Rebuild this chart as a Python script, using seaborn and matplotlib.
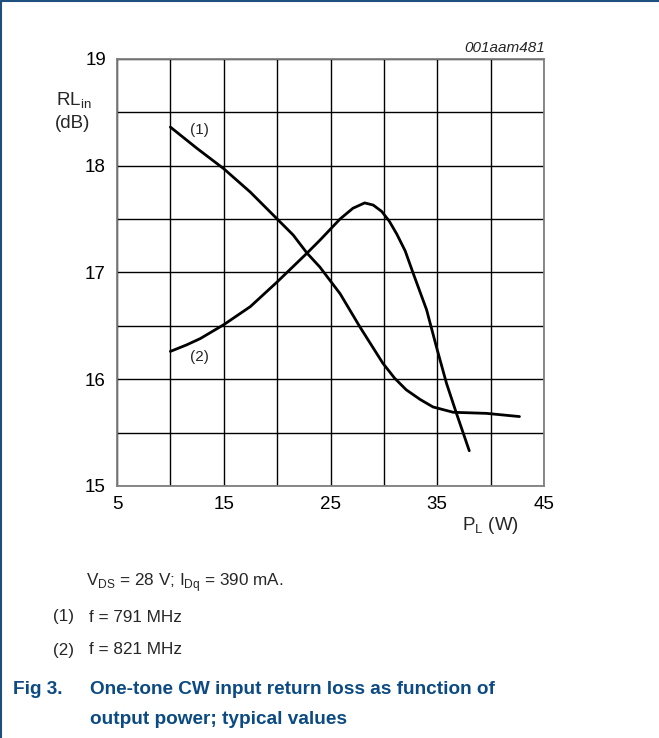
import matplotlib
matplotlib.use("Agg")
import matplotlib.pyplot as plt
from matplotlib.lines import Line2D
import seaborn as sns
import pandas as pd

# Data
x1 = [10.0, 12.5, 15.0, 17.5, 20.0, 21.5, 22.8, 24.0, 25.9, 27.75, 29.9, 31.0, 32.1, 33.4, 34.6, 36.5, 39.6, 42.7]
y1 = [18.36, 18.16, 17.97, 17.75, 17.50, 17.35, 17.18, 17.05, 16.80, 16.49, 16.15, 16.01, 15.90, 15.81, 15.74, 15.69, 15.68, 15.65]
x2 = [10.0, 11.5, 12.8, 15.0, 17.5, 20.0, 22.8, 24.0, 25.9, 27.1, 28.2, 29.0, 29.8, 30.5, 31.2, 32.0, 32.75, 34.0, 34.93, 35.87, 36.8, 38.0]
y2 = [16.26, 16.32, 16.38, 16.51, 16.68, 16.91, 17.18, 17.30, 17.50, 17.60, 17.65, 17.63, 17.57, 17.48, 17.36, 17.20, 16.99, 16.65, 16.30, 15.96, 15.68, 15.33]
series_labels = ["(1)", "(2)"]
x_ticks = [5, 15, 25, 35, 45]
y_ticks = [15, 16, 17, 18, 19]

sns.set_theme(style="white")
plt.rcParams['font.family'] = ['Liberation Sans', 'DejaVu Sans']

W, H = 659, 738
fig = plt.figure(figsize=(W / 100, H / 100), dpi=100)
ax = fig.add_axes([117 / W, 1 - 486 / H, (544 - 117) / W, (486 - 58.7) / H])

df = pd.concat([
    pd.DataFrame({"x": x1, "y": y1, "s": series_labels[0]}),
    pd.DataFrame({"x": x2, "y": y2, "s": series_labels[1]}),
])
for lab in series_labels:
    sns.lineplot(data=df[df.s == lab], x="x", y="y", ax=ax, color="black",
                 lw=2.0, estimator=None, sort=False, legend=False)

xt_all = [5, 10, 15, 20, 25, 30, 35, 40, 45]
yt_all = [15 + 0.5 * i for i in range(9)]
ax.set_xlim(5, 45)
ax.set_ylim(15, 19)
ax.set_xticks(xt_all)
ax.set_xticklabels([str(v) if v in x_ticks else "" for v in xt_all])
ax.set_yticks(yt_all)
ax.set_yticklabels([str(int(v)) if v in y_ticks else "" for v in yt_all])
ax.grid(True, color="black", lw=1.0)
ax.set_axisbelow(True)
ax.tick_params(axis="both", length=0, labelsize=13.5, colors="black")
ax.tick_params(axis="x", pad=7)
ax.tick_params(axis="y", pad=8)
for sp in ax.spines.values():
    sp.set_color("#7f7f7f")
    sp.set_linewidth(1.3)
ax.set_xlabel("")
ax.set_ylabel("")

ax.text(12.7, 18.33, "(1)", fontsize=11, ha="center", va="center")
ax.text(12.7, 16.21, "(2)", fontsize=11, ha="center", va="center")

def ftext(x, y, s, **kw):
    fig.text(x / W, 1 - y / H, s, **kw)

ftext(56, 101, r"RL$_{\mathregular{in}}$", fontsize=13.5, ha="left", va="center")
ftext(55, 123, "(dB)", fontsize=13.5, ha="left", va="center")
ftext(545, 48, "001aam481", fontsize=11, style="italic", ha="right", va="center")
ftext(490, 525, r"P$_{\mathregular{L}}$ (W)", fontsize=13.5, ha="center", va="center")

ftext(86, 583, r"V$_{\mathregular{DS}}$ = 28 V; I$_{\mathregular{Dq}}$ = 390 mA.", fontsize=12.3, ha="left", va="center")
ftext(53, 617, "(1)", fontsize=12.3, ha="left", va="center")
ftext(89, 617, "f = 791 MHz", fontsize=12.3, ha="left", va="center")
ftext(53, 650, "(2)", fontsize=12.3, ha="left", va="center")
ftext(89, 650, "f = 821 MHz", fontsize=12.3, ha="left", va="center")

blue = "#0b4a82"
cap_fs = 13.7
ftext(13, 690, "Fig 3.", fontsize=cap_fs, weight="bold", color=blue, ha="left", va="center")
ftext(90, 690, "One-tone CW input return loss as function of", fontsize=cap_fs, weight="bold", color=blue, ha="left", va="center")
ftext(90, 720, "output power; typical values", fontsize=cap_fs, weight="bold", color=blue, ha="left", va="center")

border = "#1d4f7f"
fig.add_artist(Line2D([1 / W, 1 / W], [0, 1 - 1 / H], transform=fig.transFigure, color=border, lw=1.5))
fig.add_artist(Line2D([1 / W, 1], [1 - 1 / H, 1 - 1 / H], transform=fig.transFigure, color=border, lw=1.5))

fig.savefig("out.png", dpi=100)
